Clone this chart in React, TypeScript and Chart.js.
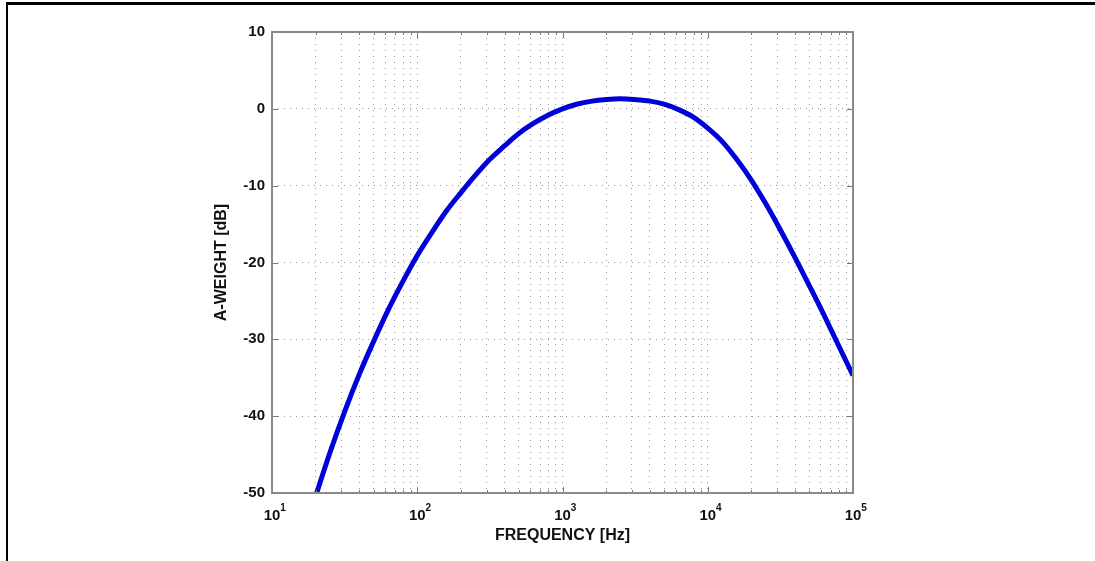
import React, { useEffect, useRef } from "react";
import { Chart, registerables } from "chart.js";

Chart.register(...registerables);

// Frequencies (Hz) and A-weighting values (dB)
const frequencies = [
  20, 25, 31.5, 40, 50, 63, 80, 100, 125, 160, 200, 250, 315, 400, 500, 630, 800,
  1000, 1250, 1600, 2000, 2500, 3150, 4000, 5000, 6300, 8000, 10000, 12500, 16000,
  20000, 25000, 31500, 40000, 50000, 63000, 80000, 100000,
];
const aWeight = [
  -50.4, -44.8, -39.5, -34.5, -30.3, -26.2, -22.4, -19.1, -16.2, -13.2, -10.9, -8.7,
  -6.6, -4.8, -3.2, -1.9, -0.8, 0.0, 0.6, 1.0, 1.2, 1.3, 1.2, 1.0, 0.6, -0.1, -1.1,
  -2.5, -4.2, -6.7, -9.3, -12.3, -15.7, -19.4, -23.0, -26.8, -30.9, -34.7,
];
const xDecades = [10, 100, 1000, 10000, 100000];
const xDecadeExponents = ["1", "2", "3", "4", "5"];
const yTicks = [-50, -40, -30, -20, -10, 0, 10];
const xTitle = "FREQUENCY [Hz]";
const yTitle = "A-WEIGHT [dB]";

const FONT = "'Liberation Sans', Arial, Helvetica, sans-serif";

export default function App() {
  const ref = useRef<HTMLCanvasElement | null>(null);

  useEffect(() => {
    if (!ref.current) return;
    const gridTicks: number[] = [];
    for (let d = 0; d < xDecades.length; d++) {
      const base = xDecades[d];
      if (d === xDecades.length - 1) {
        gridTicks.push(base);
      } else {
        for (let m = 1; m <= 9; m++) gridTicks.push(base * m);
      }
    }

    const framePlugin = {
      id: "frame",
      afterDraw(chart: any) {
        const { ctx, chartArea } = chart;
        const { left, right, top, bottom } = chartArea;
        const xs = chart.scales.x;
        const ys = chart.scales.y;
        ctx.save();
        // inward tick marks
        ctx.strokeStyle = "#777";
        ctx.lineWidth = 1;
        ctx.beginPath();
        for (const v of gridTicks) {
          const px = Math.round(xs.getPixelForValue(v)) + 0.5;
          const isMajor = xDecades.includes(v);
          const len = isMajor ? 6 : 3;
          ctx.moveTo(px, bottom);
          ctx.lineTo(px, bottom - len);
          ctx.moveTo(px, top);
          ctx.lineTo(px, top + len);
        }
        for (const v of yTicks) {
          const py = Math.round(ys.getPixelForValue(v)) + 0.5;
          ctx.moveTo(left, py);
          ctx.lineTo(left + 6, py);
          ctx.moveTo(right, py);
          ctx.lineTo(right - 6, py);
        }
        ctx.stroke();
        // box
        ctx.strokeStyle = "#8a8a8a";
        ctx.lineWidth = 2;
        ctx.strokeRect(left, top, right - left, bottom - top);
        // x decade labels with superscript exponents
        ctx.fillStyle = "#111";
        ctx.textBaseline = "alphabetic";
        xDecades.forEach((v, i) => {
          const px = xs.getPixelForValue(v);
          ctx.font = `bold 15px ${FONT}`;
          const w = ctx.measureText("10").width;
          ctx.textAlign = "center";
          ctx.fillText("10", px, bottom + 27);
          ctx.font = `bold 10px ${FONT}`;
          ctx.textAlign = "left";
          ctx.fillText(xDecadeExponents[i], px + w / 2, bottom + 18);
        });
        // axis titles
        ctx.font = `bold 16px ${FONT}`;
        ctx.textAlign = "center";
        ctx.textBaseline = "middle";
        ctx.fillText(xTitle, (left + right) / 2, bottom + 43);
        ctx.translate(left - 50, (top + bottom) / 2);
        ctx.rotate(-Math.PI / 2);
        ctx.fillText(yTitle, 0, 0);
        ctx.restore();
      },
    };

    const chart = new Chart(ref.current, {
      type: "line",
      data: {
        datasets: [
          {
            data: frequencies.map((f, i) => ({ x: f, y: aWeight[i] })),
            borderColor: "#0000d8",
            borderWidth: 5,
            pointRadius: 0,
            cubicInterpolationMode: "monotone",
            fill: false,
          },
        ],
      },
      options: {
        animation: false,
        responsive: false,
        maintainAspectRatio: false,
        layout: { padding: { left: 0, top: 32, right: 242, bottom: 0 } },
        plugins: { legend: { display: false }, tooltip: { enabled: false } },
        scales: {
          x: {
            type: "logarithmic",
            min: 10,
            max: 100000,
            afterBuildTicks: (scale: any) => {
              scale.ticks = gridTicks.map((v) => ({ value: v, major: xDecades.includes(v) }));
            },
            afterFit: (scale: any) => {
              scale.height = 68;
            },
            ticks: {
              autoSkip: false,
              maxRotation: 0,
              callback: () => "",
            },
            grid: {
              color: "rgba(110,110,110,0.7)",
              lineWidth: 1,
              drawTicks: false,
            },
            border: { display: false, dash: [1, 5] },
          },
          y: {
            type: "linear",
            min: -50,
            max: 10,
            afterBuildTicks: (scale: any) => {
              scale.ticks = yTicks.map((v) => ({ value: v }));
            },
            afterFit: (scale: any) => {
              scale.width = 272;
            },
            ticks: {
              padding: 7,
              color: "#111",
              font: { family: FONT, size: 15, weight: "bold" },
            },
            grid: {
              color: "rgba(110,110,110,0.7)",
              lineWidth: 1,
              drawTicks: false,
            },
            border: { display: false, dash: [1, 5] },
          },
        },
      },
      plugins: [framePlugin],
    } as any);

    return () => chart.destroy();
  }, []);

  return (
    <div style={{ position: "fixed", left: 0, top: 0, width: 1095, height: 561, background: "#fff", overflow: "hidden" }}>
      <div
        style={{
          position: "absolute",
          left: 6,
          top: 2,
          width: 1200,
          height: 700,
          borderTop: "3px solid #000",
          borderLeft: "2px solid #000",
          boxSizing: "border-box",
        }}
      />
      <canvas ref={ref} width={1095} height={561} style={{ position: "absolute", left: 0, top: 0, width: 1095, height: 561 }} />
    </div>
  );
}
